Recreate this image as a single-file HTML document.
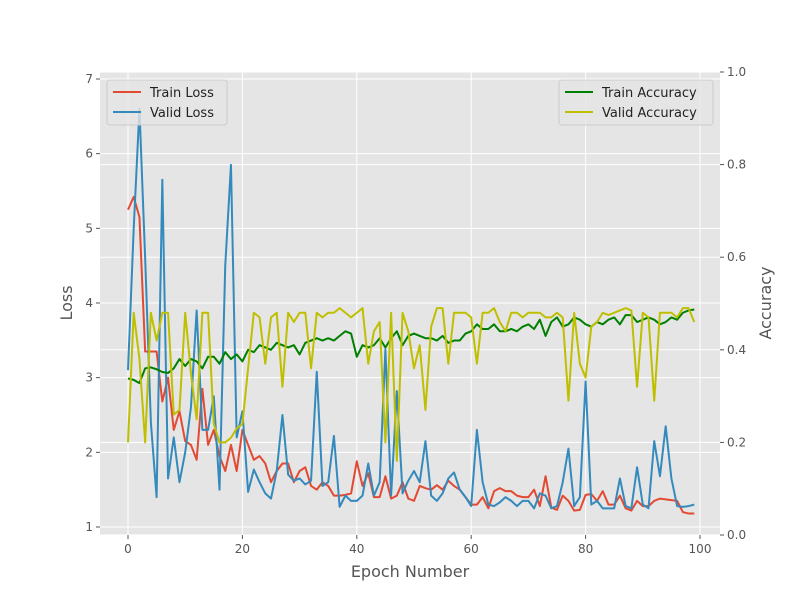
<!DOCTYPE html>
<html><head><meta charset="utf-8"><style>body{margin:0;background:#fff}svg{display:block;font-family:"DejaVu Sans","Liberation Sans",sans-serif}</style></head>
<body>
<svg id="chart" width="800" height="600" xmlns="http://www.w3.org/2000/svg"></svg>
<script>
const epochs=[...Array(100).keys()];
const trainLoss=[5.25,5.42,5.15,3.35,3.35,3.35,2.68,3.0,2.3,2.55,2.15,2.1,1.9,2.85,2.1,2.3,1.95,1.75,2.1,1.75,2.3,2.1,1.9,1.95,1.85,1.6,1.75,1.85,1.85,1.6,1.75,1.8,1.55,1.5,1.6,1.55,1.42,1.42,1.43,1.45,1.88,1.55,1.72,1.4,1.4,1.68,1.38,1.42,1.6,1.38,1.35,1.55,1.52,1.5,1.56,1.5,1.62,1.55,1.5,1.4,1.3,1.3,1.4,1.25,1.48,1.52,1.48,1.48,1.42,1.4,1.4,1.5,1.28,1.68,1.26,1.23,1.42,1.35,1.22,1.23,1.43,1.44,1.35,1.48,1.3,1.3,1.42,1.25,1.22,1.35,1.28,1.28,1.35,1.38,1.37,1.36,1.35,1.2,1.18,1.18];
const validLoss=[3.1,5.0,6.6,4.6,2.4,1.4,5.65,1.65,2.2,1.6,2.0,2.6,3.9,2.3,2.3,2.75,1.5,4.5,5.85,2.2,2.55,1.47,1.77,1.6,1.45,1.38,1.75,2.5,1.7,1.62,1.65,1.57,1.62,3.08,1.55,1.6,2.22,1.27,1.42,1.35,1.35,1.42,1.85,1.42,1.6,3.38,1.42,2.82,1.45,1.62,1.75,1.6,2.15,1.42,1.35,1.45,1.65,1.73,1.5,1.4,1.28,2.3,1.6,1.3,1.28,1.33,1.4,1.35,1.28,1.35,1.35,1.25,1.45,1.42,1.25,1.28,1.6,2.05,1.28,1.4,2.95,1.3,1.35,1.25,1.25,1.25,1.65,1.28,1.25,1.8,1.3,1.25,2.15,1.68,2.35,1.65,1.28,1.27,1.28,1.3];
const trainAcc=[.338,.335,.328,.36,.362,.358,.352,.35,.36,.38,.365,.38,.375,.36,.385,.385,.37,.395,.38,.39,.375,.40,.395,.41,.405,.40,.415,.41,.405,.41,.39,.415,.42,.425,.42,.425,.42,.43,.44,.435,.385,.41,.405,.41,.425,.405,.425,.44,.41,.43,.435,.43,.425,.425,.42,.43,.415,.42,.42,.435,.44,.455,.445,.445,.455,.44,.44,.445,.44,.45,.455,.445,.465,.43,.46,.47,.45,.455,.47,.465,.455,.45,.46,.455,.465,.47,.455,.475,.475,.46,.465,.47,.465,.455,.46,.47,.465,.48,.485,.487];
const validAcc=[.2,.48,.38,.2,.48,.42,.48,.48,.26,.27,.48,.35,.25,.48,.48,.24,.2,.2,.21,.23,.24,.36,.48,.47,.37,.47,.48,.32,.48,.46,.48,.48,.36,.48,.47,.48,.48,.49,.48,.47,.48,.49,.37,.44,.46,.2,.48,.16,.48,.44,.36,.41,.27,.45,.49,.49,.37,.48,.48,.48,.47,.37,.48,.48,.49,.46,.44,.48,.48,.47,.48,.48,.48,.47,.47,.48,.47,.29,.48,.37,.34,.45,.46,.48,.475,.48,.485,.49,.485,.32,.48,.47,.29,.48,.48,.48,.47,.49,.49,.46];
const xTicks=[0,20,40,60,80,100];
const lossTicks=[1,2,3,4,5,6,7];
const accTicks=[0.0,0.2,0.4,0.6,0.8,1.0];

const L=100,R=720,T=72,B=535;
const xs=v=>128+(700-128)*v/100;
const yl=v=>527-(527-79)*(v-1)/6;
const yr=v=>B-(B-T)*v;
const svg=document.getElementById('chart');
const NS='http://www.w3.org/2000/svg';
function mk(tag,at,parent){const e=document.createElementNS(NS,tag);for(const k in at)e.setAttribute(k,at[k]);(parent||svg).appendChild(e);return e;}
const bg=mk('rect',{x:L,y:T,width:R-L,height:B-T,fill:'#e5e5e5'});


const grid=mk('g',{stroke:'#fff','stroke-width':1});


xTicks.forEach(t=>mk('line',{x1:xs(t),x2:xs(t),y1:T,y2:B},grid));
lossTicks.forEach(t=>mk('line',{x1:L,x2:R,y1:yl(t),y2:yl(t)},grid));
accTicks.forEach(t=>mk('line',{x1:L,x2:R,y1:yr(t),y2:yr(t)},grid));
const ticks=mk('g',{fill:'#555','font-size':12});


xTicks.forEach(t=>{mk('line',{x1:xs(t),x2:xs(t),y1:B,y2:B+4,stroke:'#555'},ticks);const e=mk('text',{x:xs(t),y:B+18,'text-anchor':'middle'},ticks);e.textContent=t;});
lossTicks.forEach(t=>{mk('line',{x1:L-4,x2:L,y1:yl(t),y2:yl(t),stroke:'#555'},ticks);const e=mk('text',{x:L-7,y:yl(t)+4,'text-anchor':'end'},ticks);e.textContent=t;});
accTicks.forEach(t=>{mk('line',{x1:R,x2:R+4,y1:yr(t),y2:yr(t),stroke:'#555'},ticks);const e=mk('text',{x:R+7,y:yr(t)+4},ticks);e.textContent=t.toFixed(1);});
function line(data,fy,color,name){const p=mk('polyline',{points:data.map((v,i)=>xs(epochs[i])+','+fy(v)).join(' '),fill:'none',stroke:color,'stroke-width':2,'stroke-linejoin':'round'});}
line(trainLoss,yl,'#e24a33','train-loss-line');
line(validLoss,yl,'#348abd','valid-loss-line');
line(trainAcc,yr,'#008000','train-accuracy-line');
line(validAcc,yr,'#bfbf00','valid-accuracy-line');
function legend(x,y,w,items,name){const g=mk('g',{});
mk('rect',{x:x,y:y,width:w,height:45,rx:3,fill:'#e5e5e5','fill-opacity':0.8,stroke:'#ccc'},g);
items.forEach((it,i)=>{const yy=y+12+i*20;mk('line',{x1:x+6,x2:x+34,y1:yy,y2:yy,stroke:it[1],'stroke-width':2},g);const t=mk('text',{x:x+43,y:yy+5,'font-size':13,fill:'#222'},g);t.textContent=it[0];});}
legend(107,80,120,[['Train Loss','#e24a33'],['Valid Loss','#348abd']],'loss-legend');
legend(559,80,154,[['Train Accuracy','#008000'],['Valid Accuracy','#bfbf00']],'accuracy-legend');
function label(txt,x,y,rot,name){const t=mk('text',{x:x,y:y,'text-anchor':'middle','font-size':16,fill:'#555',transform:rot?`rotate(-90 ${x} ${y})`:''});t.textContent=txt;}
label('Epoch Number',410,577,false,'x-axis-title');
label('Loss',72,303,true,'left-y-axis-title');
label('Accuracy',771,303,true,'right-y-axis-title');
</script>
</body></html>
